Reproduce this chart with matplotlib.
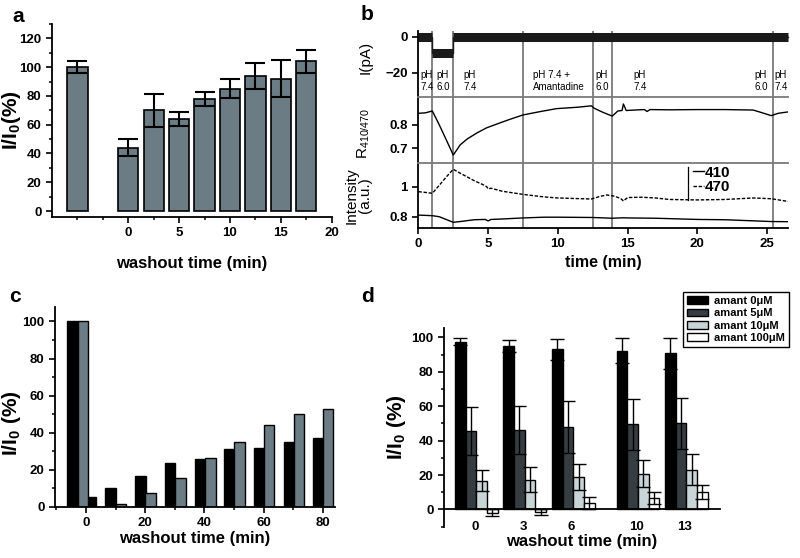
import numpy as np
import matplotlib
matplotlib.use('Agg')
import matplotlib.pyplot as plt

plt.rcParams['font.family'] = ['Liberation Sans', 'DejaVu Sans']
plt.rcParams['mathtext.fontset'] = 'custom'
plt.rcParams['mathtext.rm'] = 'Liberation Sans'
plt.rcParams['mathtext.bf'] = 'Liberation Sans:bold'
plt.rcParams['axes.linewidth'] = 1.3
plt.rcParams['xtick.direction'] = 'out'
plt.rcParams['ytick.direction'] = 'out'

#%% data
# panel a: recovery after washout
a_time = [-5, 0, 2.5, 5, 7.5, 10, 12.5, 15, 17.5]
a_val = [100, 44, 70, 64, 78, 85, 94, 92, 104]
a_err = [4, 6, 11.5, 5, 5, 6.5, 9, 13, 8]

# panel b: traces
cur_t = [0, 1.0, 1.0, 2.5, 2.5, 26.5]
cur_i = [0, 0, -9, -9, 0, 0]
cur_start = [0, 1.0, 2.5]
cur_end = [1.0, 2.5, 26.5]
cur_level = [0, -9, 0]

ratio_t = [0, 0.5, 1.0, 1.5, 2.0, 2.5, 3.0, 3.5, 4.2, 4.9, 5.9, 6.6, 7.5, 8.7, 9.9,
           11.4, 12.4, 12.6, 13.2, 13.9, 14.3, 14.6, 14.7, 14.9, 15.5, 16.2, 16.4,
           16.6, 18, 20, 22, 24, 24.5, 25.3, 25.8, 26.5]
ratio_v = [0.850, 0.852, 0.860, 0.800, 0.736, 0.671, 0.715, 0.740, 0.766, 0.788,
           0.810, 0.825, 0.843, 0.857, 0.870, 0.876, 0.882, 0.872, 0.855, 0.838,
           0.860, 0.862, 0.890, 0.862, 0.864, 0.866, 0.858, 0.866, 0.865, 0.866,
           0.866, 0.864, 0.855, 0.840, 0.850, 0.856]

i470_t = [0, 0.5, 1.0, 1.5, 2.0, 2.5, 3.0, 3.5, 4.0, 4.6, 4.9, 5.0, 5.2, 6.0, 7.5,
          9, 10, 11, 12.4, 13.0, 13.5, 14.0, 14.5, 14.7, 15.0, 16, 17, 18, 20, 22,
          24, 25.3, 26.5]
i470_v = [0.967, 0.962, 0.956, 1.010, 1.065, 1.116, 1.090, 1.065, 1.040, 1.015,
          1.000, 0.985, 0.990, 0.970, 0.949, 0.932, 0.925, 0.922, 0.918, 0.935,
          0.945, 0.938, 0.922, 0.905, 0.928, 0.930, 0.925, 0.915, 0.912, 0.915,
          0.925, 0.920, 0.902]

i410_t = [0, 1.0, 1.5, 2.5, 3.0, 4.0, 4.8, 5.0, 5.2, 6, 7.5, 9, 10, 12.5, 13.9,
          14.7, 15, 17, 20, 22, 25.3, 26.5]
i410_v = [0.811, 0.807, 0.800, 0.763, 0.768, 0.780, 0.782, 0.772, 0.782, 0.785,
          0.792, 0.797, 0.797, 0.795, 0.790, 0.793, 0.792, 0.790, 0.782, 0.780,
          0.768, 0.767]

switch_t = [1.0, 2.5, 7.5, 12.5, 13.9, 25.4]
ph_t = [0.12, 1.27, 3.23, 8.25, 12.68, 15.43, 24.1, 25.5]
ph_txt = ['pH\n7.4', 'pH\n6.0', 'pH\n7.4', 'pH 7.4 +\nAmantadine', 'pH\n6.0',
          'pH\n7.4', 'pH\n6.0', 'pH\n7.4']

# panel c: two series
c_black_t = [-4.6, 1.6, 8.25, 18.4, 28.4, 38.5, 48.5, 58.5, 68.5, 78.3]
c_black_v = [100, 5, 10, 16.5, 23.5, 25.5, 31, 31.5, 35, 37]
c_gray_t = [-1.0, 11.9, 21.9, 31.9, 42, 51.9, 61.8, 71.9, 81.6]
c_gray_v = [100, 1.5, 7.5, 15.5, 26.5, 35, 44, 50, 53]

# panel d: amantadine concentrations
d_time = [0, 3, 6, 10, 13]
d_labels = ['amant 0\u03bcM', 'amant 5\u03bcM', 'amant 10\u03bcM', 'amant 100\u03bcM']
d_val = [[97.5, 95, 93, 92.3, 90.7],
         [45.4, 46.3, 47.9, 49.4, 50],
         [16.8, 17.4, 18.7, 20.8, 23],
         [-2, -1.5, 3.9, 6.6, 10]]
d_err = [[2, 3.5, 6, 7, 9],
         [14, 14, 15, 15, 15],
         [6, 7, 7.5, 8, 9],
         [2, 1.5, 3.5, 3.5, 4]]
d_colors = ['#000000', '#363d42', '#c8d4d6', '#ffffff']

slate = '#6c7c84'

fig = plt.figure(figsize=(8, 5.58), dpi=100)

def style(ax):
    ax.spines['top'].set_visible(False)
    ax.spines['right'].set_visible(False)
    ax.tick_params(which='major', length=4, width=1.2)
    ax.tick_params(which='minor', length=2.5, width=1.1)
    for lab in ax.get_xticklabels() + ax.get_yticklabels():
        lab.set_fontsize(9.5)
        lab.set_fontweight('bold')

#%% panel a
ax_a = fig.add_axes([0.065, 0.611, 0.3496, 0.346])
ax_a.bar(a_time, a_val, width=2.0, color=slate, edgecolor='black', linewidth=1.2)
ax_a.errorbar(a_time, a_val, yerr=a_err, fmt='none', ecolor='black',
              elinewidth=1.5, capsize=7, capthick=1.5)
ax_a.set_xlim(-7.5, 20)
ax_a.set_ylim(-4.2, 130)
ax_a.set_xticks([0, 5, 10, 15, 20])
ax_a.set_xticks(np.arange(-5, 20, 2.5), minor=True)
ax_a.set_yticks(np.arange(0, 121, 20))
ax_a.set_yticks(np.arange(0, 131, 10), minor=True)
style(ax_a)
ax_a.set_xlabel('washout time (min)', fontsize=12, fontweight='bold')
ax_a.xaxis.set_label_coords(0.5, -0.2)
ax_a.set_ylabel(r'I/I$_\mathbf{0}$(%)', fontsize=15, fontweight='bold')
ax_a.yaxis.set_label_coords(-0.105, 0.5)

#%% panel b
bx0, bw = 0.523, 0.462
ax_cur = fig.add_axes([bx0, 0.8262, bw, 0.9444 - 0.8262])
ax_rat = fig.add_axes([bx0, 0.7079, bw, 0.8262 - 0.7079], sharex=ax_cur)
ax_int = fig.add_axes([bx0, 0.5914, bw, 0.7079 - 0.5914], sharex=ax_cur)

# noisy current drawn as a thick band, thin steps between levels
ax_cur.hlines(cur_level, cur_start, cur_end, color='#1a1a1a', lw=6.5, clip_on=False)
ax_cur.plot(cur_t, cur_i, color='#1a1a1a', lw=1.0, clip_on=False)
ax_rat.plot(ratio_t, ratio_v, color='black', lw=1.0)
ax_int.plot(i410_t, i410_v, color='black', lw=1.0, label='410')
ax_int.plot(i470_t, i470_v, color='black', lw=1.0, dashes=(2.5, 1.2), label='470')

for ax in (ax_cur, ax_rat, ax_int):
    for t in switch_t:
        ax.axvline(t, color='#7a7a7a', lw=1.3, zorder=0)
    ax.spines['right'].set_visible(False)
    ax.tick_params(which='major', length=4, width=1.2)
    for lab in ax.get_yticklabels():
        lab.set_fontsize(9.5)
        lab.set_fontweight('bold')

ax_cur.spines['top'].set_visible(False)
ax_cur.spines['bottom'].set_visible(False)
ax_rat.spines['bottom'].set_visible(False)
ax_rat.spines['top'].set_color('#7a7a7a')
ax_int.spines['top'].set_color('#7a7a7a')
ax_cur.tick_params(axis='x', bottom=False, labelbottom=False)
ax_rat.tick_params(axis='x', bottom=False, labelbottom=False)

ax_cur.set_xlim(0, 26.5)
ax_cur.set_ylim(-33.2, 3.1)
ax_cur.set_yticks([0, -20])
ax_rat.set_ylim(0.637, 0.92)
ax_rat.set_yticks([0.7, 0.8])
ax_rat.set_yticklabels(['0.7', '0.8'])
ax_int.set_ylim(0.725, 1.158)
ax_int.set_yticks([0.8, 1.0])
ax_int.set_yticklabels(['0.8', '1'])
ax_int.set_xticks([0, 5, 10, 15, 20, 25])
for lab in ax_int.get_xticklabels():
    lab.set_fontsize(9.5)
    lab.set_fontweight('bold')

for t, s in zip(ph_t, ph_txt):
    ax_cur.text(t, -24.6, s, fontsize=7, ha='left', va='center', linespacing=1.25)

ax_int.axvline(19.3, ymin=0.43, ymax=0.94, color='black', lw=0.9)
leg = ax_int.legend(loc='upper left', bbox_to_anchor=(0.743, 0.96), frameon=False,
                    handlelength=0.7, handletextpad=0.1, labelspacing=0.05,
                    borderpad=0, borderaxespad=0,
                    prop=dict(size=11, weight='bold'))

ax_cur.set_ylabel('I(pA)', fontsize=11)
ax_cur.yaxis.set_label_coords(-0.125, 0.6)
ax_rat.set_ylabel(r'R$_\mathregular{410/470}$', fontsize=11)
ax_rat.yaxis.set_label_coords(-0.125, 0.45)
ax_int.set_ylabel('Intensity\n(a.u.)', fontsize=11, linespacing=1.0)
ax_int.yaxis.set_label_coords(-0.125, 0.5)
ax_int.set_xlabel('time (min)', fontsize=11.5, fontweight='bold')
ax_int.xaxis.set_label_coords(0.5, -0.42)

#%% panel c
ax_c = fig.add_axes([0.06875, 0.0919, 0.35, 0.3585])
ax_c.bar(c_black_t, c_black_v, width=3.6, color='black', edgecolor='black', linewidth=1.0)
ax_c.bar(c_gray_t, c_gray_v, width=3.6, color=slate, edgecolor='black', linewidth=1.0)
ax_c.set_xlim(-10.4, 84)
ax_c.set_ylim(0, 108)
ax_c.set_xticks([0, 20, 40, 60, 80])
ax_c.set_xticks(np.arange(-10, 84, 10), minor=True)
ax_c.set_yticks(np.arange(0, 101, 20))
ax_c.set_yticks(np.arange(0, 108, 10), minor=True)
style(ax_c)
ax_c.set_xlabel('washout time (min)', fontsize=12, fontweight='bold', labelpad=1)
ax_c.set_ylabel(r'I/I$_\mathbf{0}$ (%)', fontsize=15, fontweight='bold')
ax_c.yaxis.set_label_coords(-0.114, 0.42)

#%% panel d
ax_d = fig.add_axes([0.555, 0.0561, 0.345, 0.3561])
w = 0.66
for k in range(4):
    xs = np.array(d_time) + w * (k + 0.5)
    ax_d.bar(xs, d_val[k], width=w, color=d_colors[k], edgecolor='black',
             linewidth=1.0, label=d_labels[k])
    ax_d.errorbar(xs, d_val[k], yerr=d_err[k], fmt='none', ecolor='black',
                  elinewidth=1.0, capsize=5, capthick=1.0)
ax_d.set_xlim(-0.68, 16.4)
ax_d.set_ylim(-10, 105.4)
ax_d.spines['bottom'].set_position(('data', 0))
ax_d.set_xticks(np.array(d_time) + 2 * w - 0.1)
ax_d.set_xticklabels([str(t) for t in d_time])
ax_d.set_yticks(np.arange(0, 101, 20))
ax_d.set_yticks(np.arange(-10, 105, 10), minor=True)
style(ax_d)
ax_d.tick_params(axis='x', length=0, pad=8)
ax_d.set_xlabel('washout time (min)', fontsize=12, fontweight='bold')
ax_d.xaxis.set_label_coords(0.5, -0.035)
ax_d.set_ylabel(r'I/I$_\mathbf{0}$ (%)', fontsize=15, fontweight='bold')
ax_d.yaxis.set_label_coords(-0.13, 0.5)
lg = ax_d.legend(loc='upper right', bbox_to_anchor=(0.986, 0.4767),
                 bbox_transform=fig.transFigure, fancybox=False, framealpha=1,
                 edgecolor='black', handlelength=1.9, handleheight=0.7,
                 labelspacing=0.22, borderpad=0.35, handletextpad=0.5,
                 borderaxespad=0, prop=dict(size=8, weight='bold'))
lg.get_frame().set_linewidth(1.0)

#%% panel letters
for x, y, s in [(18, 17, 'a'), (367, 15, 'b'), (15, 297, 'c'), (368, 297, 'd')]:
    fig.text(x / 800, 1 - y / 558, s, fontsize=15, fontweight='bold',
             ha='center', va='center')

fig.savefig('out.png', dpi=100)
